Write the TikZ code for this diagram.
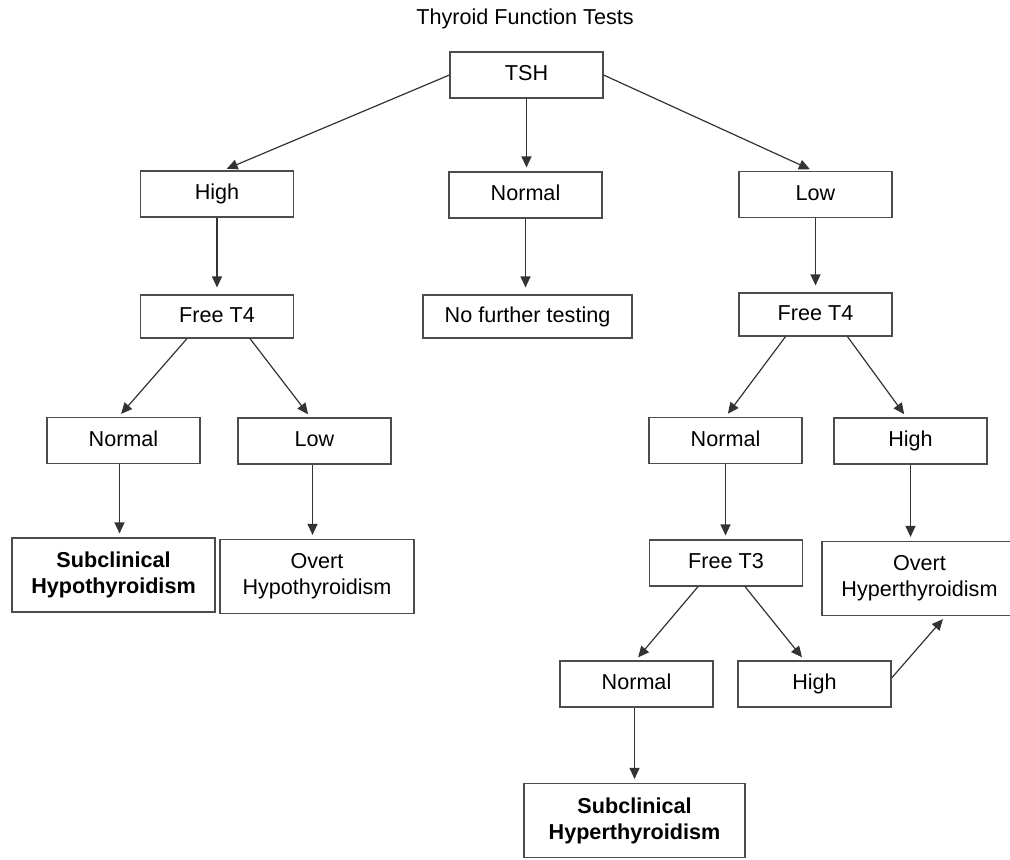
\documentclass[tikz,border=0pt]{standalone}
\usepackage{fontspec}
\setmainfont{Liberation Sans}
\usetikzlibrary{arrows.meta}

\begin{document}
\begin{tikzpicture}[x=0.5pt, y=-0.5pt,
	base/.style={draw=black!70, line width=0.6pt, minimum width=76.5pt, minimum height=23pt,
		inner sep=0pt, align=center, font=\fontsize{10.8}{13}\selectfont},
	box/.style={base, text height=7.7pt, text depth=1.8pt},
	bigbox/.style={base, minimum height=37pt},
	boldbox/.style={bigbox, font=\fontsize{10.8}{13}\selectfont\bfseries},
	arr/.style={draw=black!80, line width=0.6pt, shorten >=2pt, -{Triangle[length=5.5pt,width=5pt]}}]

		\clip (0,0) rectangle (1010,859);

		\node (title) at (525,19) {\fontsize{10.8}{13}\selectfont Thyroid Function Tests};

		\node[box] (tsh) at (526.5,75) {TSH};

		\node[box] (high1) at (217,194) {High};
		\node[box] (normal1) at (525.5,195) {Normal};
		\node[box] (low1) at (815.5,194.5) {Low};

		\node[box, minimum height=21.5pt] (ft4a) at (217,316.5) {Free T4};
		\node[box, minimum width=104.5pt, minimum height=21.5pt] (nofurther) at (527.5,316.5) {No further testing};
		\node[box, minimum height=21.5pt] (ft4b) at (815.5,314.5) {Free T4};

		\node[box] (normal2) at (123.5,440.5) {Normal};
		\node[box] (low2) at (314.5,441) {Low};
		\node[box] (normal3) at (725.5,440.5) {Normal};
		\node[box] (high3) at (910.5,441) {High};

		\node[boldbox, minimum width=101.5pt] (subhypo) at (113.5,575) {Subclinical\\Hypothyroidism};
		\node[bigbox, minimum width=97pt] (overthypo) at (317,576.5) {Overt\\Hypothyroidism};
		\node[box] (ft3) at (726,563) {Free T3};
		\node[bigbox, minimum width=97.5pt] (overthyper) at (919.5,578.5) {Overt\\Hyperthyroidism};

		\node[box] (normal4) at (636.5,684) {Normal};
		\node[box] (high4) at (814.5,684) {High};

		\node[boldbox, minimum width=110.5pt] (subhyper) at (634.5,820.5) {Subclinical\\Hyperthyroidism};

		% TSH
		\draw[arr] (tsh.west) -- ([xshift=3pt]high1.north);
		\draw[arr] (tsh.south) -- (tsh.south |- normal1.north);
		\draw[arr] (tsh.east) -- ([xshift=-1pt]low1.north);

		\draw[arr, shorten >=3.5pt] (high1) -- (ft4a);
		\draw[arr, shorten >=3.5pt] (normal1.south) -- (normal1.south |- nofurther.north);
		\draw[arr, shorten >=3.5pt] (low1) -- (ft4b);

		% high TSH
		\draw[arr] ([xshift=-15pt]ft4a.south) -- ([xshift=-2.5pt]normal2.north);
		\draw[arr] ([xshift=16.5pt]ft4a.south) -- ([xshift=-2pt]low2.north);
		\draw[arr] ([xshift=-2pt]normal2.south) -- ([xshift=-2pt]normal2.south |- subhypo.north);
		\draw[arr] ([xshift=-1pt]low2.south) -- ([xshift=-1pt]low2.south |- overthypo.north);

		% low TSH
		\draw[arr] ([xshift=-15pt]ft4b.south) -- (normal3.north);
		\draw[arr] ([xshift=16pt]ft4b.south) -- ([xshift=-2pt]high3.north);
		\draw[arr] (normal3.south) -- (normal3.south |- ft3.north);
		\draw[arr] (high3.south) -- (high3.south |- overthyper.north);

		\draw[arr] ([xshift=-14pt]ft3.south) -- ([xshift=-0.5pt]normal4.north);
		\draw[arr] ([xshift=9.5pt]ft3.south) -- ([xshift=-5pt]high4.north);
		\draw[arr] ([xshift=-1pt]normal4.south) -- ([xshift=-1pt]normal4.south |- subhyper.north);
		\draw[arr] ([yshift=3pt]high4.east) -- ([xshift=13pt]overthyper.south);

	\end{tikzpicture}
\end{document}
